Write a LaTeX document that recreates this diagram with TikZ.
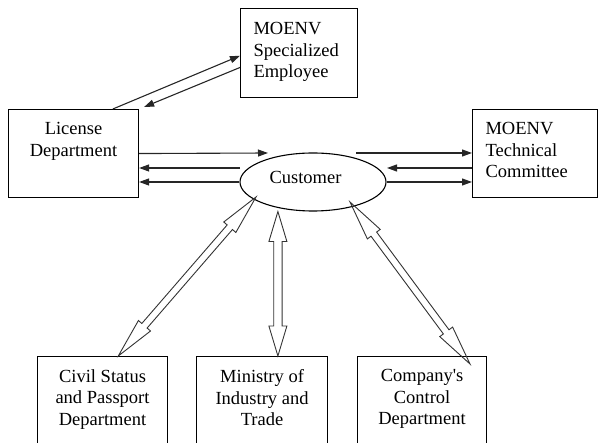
\documentclass[tikz,border=0pt]{standalone}
\usepackage{fontspec}
\setmainfont{Liberation Serif}
\usetikzlibrary{shapes.geometric,arrows.meta,calc}
\tikzset{
  box/.style={draw=black, line width=1.1pt, inner sep=0pt, anchor=north west},
  oval/.style={ellipse, draw=black, line width=1.1pt, inner sep=0pt,
    minimum width=146pt, minimum height=58pt, text height=12.6pt, text depth=9.6pt},
  thinarrow/.style={draw=black!85, line width=1.1pt, -{Triangle[length=10pt,width=7pt]}},
  hollow/.style={draw=black!80, line width=0.9pt, line join=miter},
}
\newcommand\tbox[4]{\parbox[c][#2][t]{#1}{\vspace*{#3}#4}}
\newcommand\dblarrow[5]{%
  \draw[hollow] let \p1=#1, \p2=#2, \n1={atan2(\y2-\y1,\x2-\x1)}, \n2={veclen(\x2-\x1,\y2-\y1)} in
    ([shift={(\p1)},rotate=\n1]0,0)
    -- ([shift={(\p1)},rotate=\n1]#3,#4)
    -- ([shift={(\p1)},rotate=\n1]#3,#5)
    -- ([shift={(\p1)},rotate=\n1]{\n2-#3},#5)
    -- ([shift={(\p1)},rotate=\n1]{\n2-#3},#4)
    -- ([shift={(\p1)},rotate=\n1]\n2,0)
    -- ([shift={(\p1)},rotate=\n1]{\n2-#3},-#4)
    -- ([shift={(\p1)},rotate=\n1]{\n2-#3},-#5)
    -- ([shift={(\p1)},rotate=\n1]#3,-#5)
    -- ([shift={(\p1)},rotate=\n1]#3,-#4)
    -- cycle;}
\begin{document}
\begin{tikzpicture}[x=1pt,y=-1pt,font=\fontsize{18.5}{21.5}\selectfont]
\useasboundingbox (0,0) rectangle (598,443);
\clip (0,0) rectangle (598,443);
% boxes
\node[box] (emp) at (240,8) {\tbox{117pt}{89pt}{14pt}{\leftskip=13pt MOENV\\Specialized\\Employee}};
\node[box] (lic) at (8,109) {\tbox{130pt}{88pt}{13pt}{\centering License\\Department}};
\node[box] (tech) at (472,109) {\tbox{125pt}{88pt}{13pt}{\leftskip=13pt MOENV\\Technical\\Committee}};
\node[oval] (cust) at (313,182) {Customer\hspace*{15pt}};
\node[box] (civ) at (37,356) {\tbox{130pt}{100pt}{13pt}{\centering Civil Status\\and Passport\\Department}};
\node[box] (min) at (196,356) {\tbox{131pt}{100pt}{13pt}{\centering Ministry of\\Industry and\\Trade}};
\node[box] (com) at (357,356) {\tbox{129pt}{100pt}{13pt}{\centering Company\textquotesingle s\\Control\\Department}};
% free ends
\coordinate (c1) at (268,153);
\coordinate (c2) at (240,168);
\coordinate (c3) at (356,153);
\coordinate (c4) at (387,168);
% left side arrows
\draw[thinarrow] (lic.east) -- (c1);
\draw[thinarrow] (c2) -- (c2 -| lic.east);
\draw[thinarrow] (cust.west) -- (cust.west -| lic.east);
% right side arrows
\draw[thinarrow] (c3) -- (c3 -| tech.west);
\draw[thinarrow] (c4 -| tech.west) -- (c4);
\draw[thinarrow] (cust.east) -- (cust.east -| tech.west);
% top arrows
\draw[thinarrow] ($(lic.north west)!0.8!(lic.north east)$) -- ($(emp.north west)!0.53!(emp.south west)$);
\draw[thinarrow] ($(emp.north west)!0.66!(emp.south west)$) -- ([xshift=5pt,yshift=2pt]lic.north east);
% hollow double arrows
\coordinate (mt) at ($(min.north west)!0.62!(min.north east)$);
\dblarrow{($(cust)+(-57,15)$)}{($(civ.north west)!0.62!(civ.north east)$)}{40}{8}{3.5}
\dblarrow{(mt |- cust.south)}{(mt)}{30}{9}{4.2}
\dblarrow{($(cust)+(37,20)$)}{($(com.north west)+(113,8)$)}{40}{8}{3.5}
\end{tikzpicture}
\end{document}
